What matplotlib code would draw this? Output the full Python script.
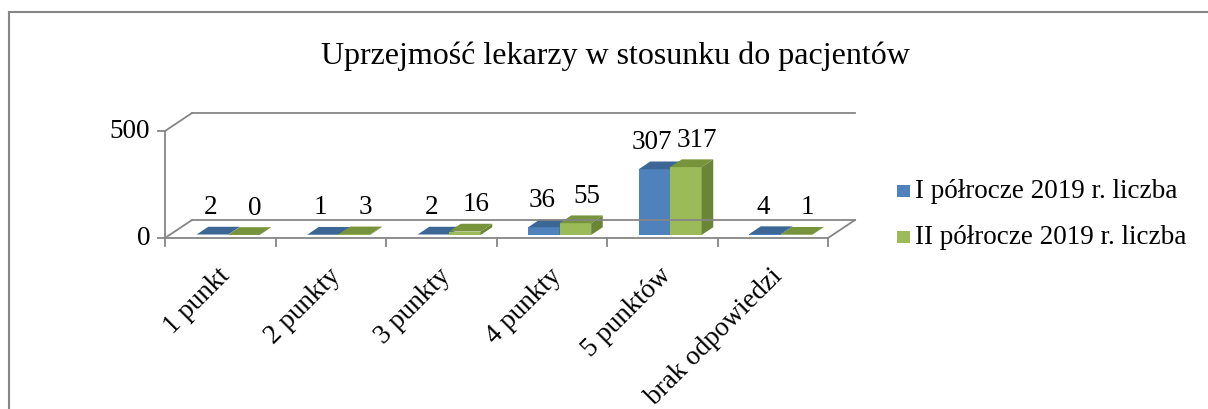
import matplotlib
matplotlib.use("Agg")
from matplotlib import pyplot as plt
from matplotlib.patches import Polygon, Rectangle
from matplotlib.lines import Line2D

# Dane wykresu.
kategorie = ["1 punkt", "2 punkty", "3 punkty", "4 punkty", "5 punktów", "brak odpowiedzi"]
seria_1 = [2, 1, 2, 36, 307, 4]
seria_2 = [0, 3, 16, 55, 317, 1]
nazwy_serii = ["I półrocze 2019 r. liczba", "II półrocze 2019 r. liczba"]
y_ticki = [0, 500]
tytul = "Uprzejmość lekarzy w stosunku do pacjentów"

W, H = 1208, 410
plt.rcParams['font.family'] = ['Liberation Serif', 'DejaVu Serif']

fig = plt.figure(figsize=(W / 100, H / 100), dpi=100)
ax = fig.add_axes([0, 0, 1, 1])
ax.axis('off')

# Skala: 1 kategoria = 110.5 px, 500 jednostek = 107 px.
X0, PX = 165, 110.5
Y0, VPP = 171, 500 / 107
ax.set_xlim(-X0 / PX, (W - X0) / PX)
ax.set_ylim(-Y0 * VPP, (H - Y0) * VPP)

# Rzut ukośny dla efektu 3D.
DX, DY = 27 / PX, 18 * VPP


def rzut(x, v, d):
    return (x + d * DX, v + d * DY)


szary = '#868686'
n = len(kategorie)
ymax = y_ticki[-1]


def linia(p, q):
    ax.add_line(Line2D([p[0], q[0]], [p[1], q[1]], color=szary, lw=1.3))


# Ściany i osie.
linia(rzut(0, 0, 0), rzut(n, 0, 0))
linia(rzut(n, 0, 0), rzut(n, 0, 1))
linia(rzut(0, 0, 1), rzut(n, 0, 1))
linia(rzut(0, 0, 0), rzut(0, 0, 1))
linia(rzut(0, ymax, 0), rzut(0, ymax, 1))
linia(rzut(0, ymax, 1), rzut(n, ymax, 1))
linia(rzut(0, 0, 0), rzut(0, ymax, 0))
for t in y_ticki:
    linia(rzut(0, t, 0), (-7 / PX, t))
    ax.text(-15 / PX, t, str(t), ha='right', va='center', fontsize=19.5)
for i in range(n + 1):
    linia((i, 0), (i, -8 * VPP))

# Słupki.
kolory = [('#4F81BD', '#3C6696', '#385D8A'), ('#9BBB59', '#77933C', '#6B8537')]
F1, F2 = 0.17, 0.6
BW = 0.285
for s, wart in enumerate([seria_1, seria_2]):
    front, top, side = kolory[s]
    for i, v in enumerate(wart):
        c = i + 0.5 + 0.03
        x0 = c - BW + s * BW
        x1 = x0 + BW
        ax.add_patch(Polygon([rzut(x0, 0, F1), rzut(x1, 0, F1), rzut(x1, v, F1), rzut(x0, v, F1)],
                             closed=True, fc=front, ec='none'))
        ax.add_patch(Polygon([rzut(x1, 0, F1), rzut(x1, 0, F2), rzut(x1, v, F2), rzut(x1, v, F1)],
                             closed=True, fc=side, ec='none'))
        ax.add_patch(Polygon([rzut(x0, v, F1), rzut(x1, v, F1), rzut(x1, v, F2), rzut(x0, v, F2)],
                             closed=True, fc=top, ec='none'))
        px, py = rzut((x0 + x1) / 2, v, F1)
        ax.annotate(str(v), (px, py), xytext=(-1.5 + s * 9.5, 20), textcoords='offset points',
                    ha='center', va='center', fontsize=19.5)

# Etykiety kategorii.
for i, k in enumerate(kategorie):
    ax.annotate(k, (i + 0.5, 0), xytext=(4, -24), textcoords='offset points',
                ha='right', va='center', rotation=45, rotation_mode='anchor', fontsize=19.5)

# Tytuł.
fig.text(615 / W, 1 - 56 / H, tytul, ha='center', va='center', fontsize=23)

# Legenda.
for s, nazwa in enumerate(nazwy_serii):
    yc = 192 + s * 46
    fig.add_artist(Rectangle((897 / W, 1 - (yc + 6) / H), 13 / W, 12 / H,
                             transform=fig.transFigure, fc=kolory[s][0], ec='none'))
    fig.text(915 / W, 1 - yc / H, nazwa, ha='left', va='center', fontsize=19.5)

# Ramka.
fig.add_artist(Line2D([9 / W, 9 / W], [0, 1 - 13 / H], transform=fig.transFigure, color=szary, lw=1.5))
fig.add_artist(Line2D([9 / W, 1], [1 - 13 / H, 1 - 13 / H], transform=fig.transFigure, color=szary, lw=1.5))

fig.savefig("out.png", dpi=100)
